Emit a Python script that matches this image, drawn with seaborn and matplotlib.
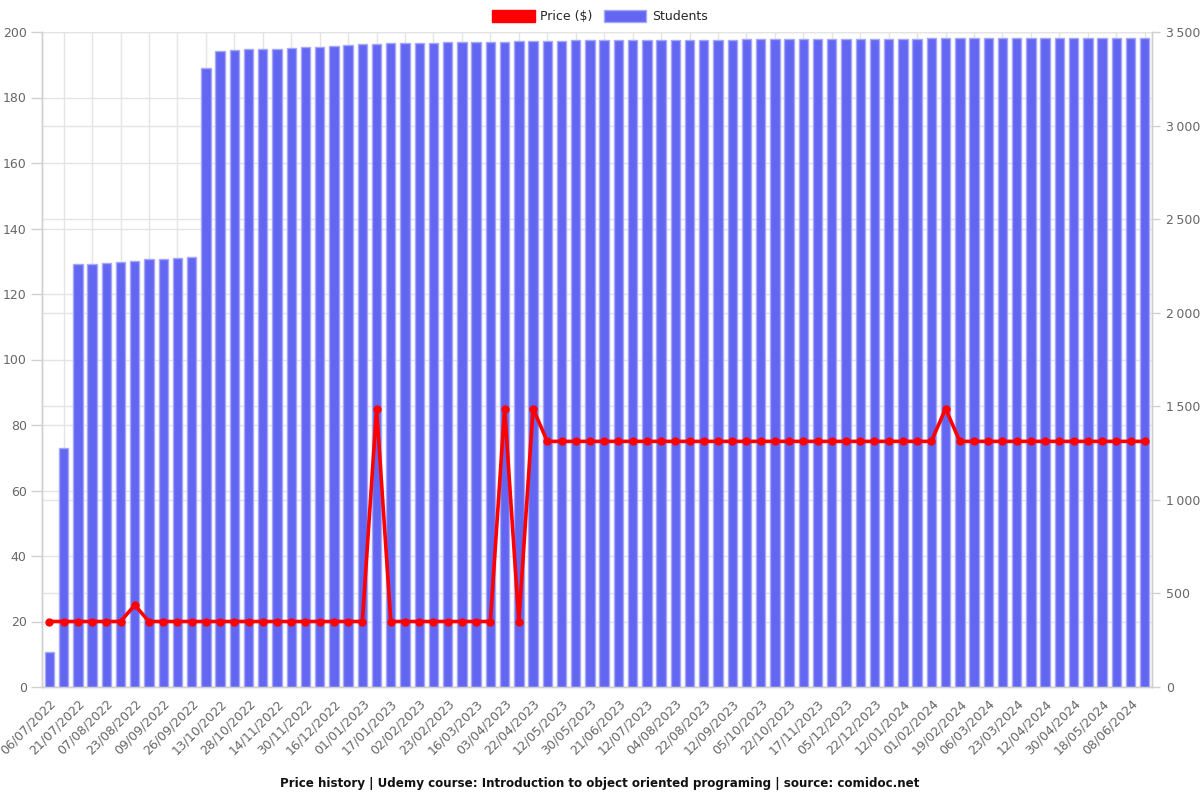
import numpy as np
import pandas as pd
import matplotlib
matplotlib.use("Agg")
import matplotlib.pyplot as plt
import seaborn as sns
from matplotlib.patches import Patch
from matplotlib.ticker import FuncFormatter, FixedLocator, MultipleLocator

# ---------------- data ----------------
tick_labels = [
    "06/07/2022", "21/07/2022", "07/08/2022", "23/08/2022", "09/09/2022", "26/09/2022",
    "13/10/2022", "28/10/2022", "14/11/2022", "30/11/2022", "16/12/2022", "01/01/2023",
    "17/01/2023", "02/02/2023", "23/02/2023", "16/03/2023", "03/04/2023", "22/04/2023",
    "12/05/2023", "30/05/2023", "21/06/2023", "12/07/2023", "04/08/2023", "22/08/2023",
    "12/09/2023", "05/10/2023", "22/10/2023", "17/11/2023", "05/12/2023", "22/12/2023",
    "12/01/2024", "01/02/2024", "19/02/2024", "06/03/2024", "23/03/2024", "12/04/2024",
    "30/04/2024", "18/05/2024", "08/06/2024",
]

students = [
    187, 1277, 2259, 2262, 2267, 2273, 2275, 2285, 2289, 2292,
    2296, 3308, 3400, 3404, 3407, 3411, 3411, 3416, 3420, 3421,
    3425, 3429, 3434, 3437, 3439, 3443, 3443, 3443, 3447, 3447,
    3449, 3449, 3449, 3452, 3452, 3452, 3452, 3455, 3455, 3457,
    3457, 3457, 3457, 3457, 3457, 3457, 3457, 3457, 3459, 3461,
    3461, 3461, 3461, 3461, 3461, 3462, 3462, 3462, 3462, 3462,
    3464, 3464, 3466, 3468, 3468, 3468, 3468, 3468, 3468, 3468,
    3468, 3468, 3468, 3469, 3469, 3469, 3469, 3469,
]

price = [
    20, 20, 20, 20, 20, 20, 25, 20, 20, 20,
    20, 20, 20, 20, 20, 20, 20, 20, 20, 20,
    20, 20, 20, 85, 20, 20, 20, 20, 20, 20,
    20, 20, 85, 20, 85, 75, 75, 75, 75, 75,
    75, 75, 75, 75, 75, 75, 75, 75, 75, 75,
    75, 75, 75, 75, 75, 75, 75, 75, 75, 75,
    75, 75, 75, 85, 75, 75, 75, 75, 75, 75,
    75, 75, 75, 75, 75, 75, 75, 75,
]

idx = np.arange(len(students))
df = pd.DataFrame({"idx": idx, "students": students, "price": price})

# ---------------- style ----------------
sns.set_style("white")
plt.rcParams["font.family"] = ["DejaVu Sans"]

BAR = "#6366F1"
BAR_EDGE = "#A5A8F7"
GRID = "#E4E4E4"
AXIS = "#D0D0D0"
TXT = "#666666"
FS = 9

fig = plt.figure(figsize=(12, 8), dpi=100)
ax = fig.add_axes([0.035, 0.14125, 0.925, 0.81875])   # left axis: price (grid only)
ax2 = ax.twinx()                                      # right axis: students (bars)
ax3 = ax.twinx()                                      # overlay: price line

# bars
sns.barplot(data=df, x="idx", y="students", ax=ax2, color=BAR, width=0.66,
            edgecolor=BAR_EDGE, linewidth=1, saturation=1, native_scale=False)

# line
sns.lineplot(data=df, x="idx", y="price", ax=ax3, color="#FF0000", linewidth=2.6,
             marker="o", markersize=6, markeredgewidth=0, zorder=5)

xmin, xmax = -0.52, len(students) - 0.49
for a in (ax, ax2, ax3):
    a.set_xlim(xmin, xmax)
    a.set_xlabel("")
    a.set_ylabel("")

ax.set_ylim(0, 200)
ax3.set_ylim(0, 200)
ax2.set_ylim(0, 3500)

# ----- left axis (price) -----
ax.yaxis.set_major_locator(MultipleLocator(20))
ax.tick_params(axis="y", colors=AXIS, labelcolor=TXT, labelsize=FS, length=8, width=1, pad=3)
ax.grid(True, axis="y", color=GRID, linewidth=1)
# x ticks: labels on even bars, grid/tick marks on odd bars
ax.set_xticks(range(0, len(students), 2))
ax.set_xticklabels(tick_labels, rotation=45, ha="right", rotation_mode="anchor",
                   color=TXT, fontsize=FS)
ax.tick_params(axis="x", which="major", length=0, pad=7)
ax.xaxis.set_minor_locator(FixedLocator(range(1, len(students), 2)))
ax.tick_params(axis="x", which="minor", length=8, color=AXIS, width=1)
ax.grid(True, axis="x", which="minor", color=GRID, linewidth=1)
ax.grid(False, axis="x", which="major")

# ----- right axis (students) -----
ax2.yaxis.set_major_locator(MultipleLocator(500))
ax2.yaxis.set_major_formatter(FuncFormatter(lambda v, p: f"{int(v):,}".replace(",", "\u2009")))
ax2.tick_params(axis="y", colors=AXIS, labelcolor=TXT, labelsize=FS, length=6, width=1, pad=4)
ax2.set_axisbelow(True)
ax2.grid(True, axis="y", color=GRID, linewidth=1)
ax2.tick_params(axis="x", which="both", length=0, labelbottom=False)
ax2.patch.set_visible(False)

# overlay axis hidden
ax3.axis("off")

for a in (ax, ax2):
    a.spines["top"].set_visible(False)
    for s in ("left", "right", "bottom"):
        a.spines[s].set_color(AXIS)
        a.spines[s].set_linewidth(1)

# legend
handles = [
    Patch(facecolor="#FF0000", edgecolor="#FF0000", label="Price ($)"),
    Patch(facecolor=BAR, edgecolor=BAR_EDGE, label="Students"),
]
fig.legend(handles=handles, loc="upper center", bbox_to_anchor=(0.5, 1.0), ncol=2,
           frameon=False, fontsize=FS, handlelength=3.4, handleheight=1.15,
           columnspacing=0.9, handletextpad=0.45, borderaxespad=0.4)

# bottom title
fig.text(0.5, 0.021, "Price history | Udemy course: Introduction to object oriented programing | source: comidoc.net",
         ha="center", va="center", fontsize=8.6, fontweight="bold", color="#111111")

fig.savefig("out.png", dpi=100)
